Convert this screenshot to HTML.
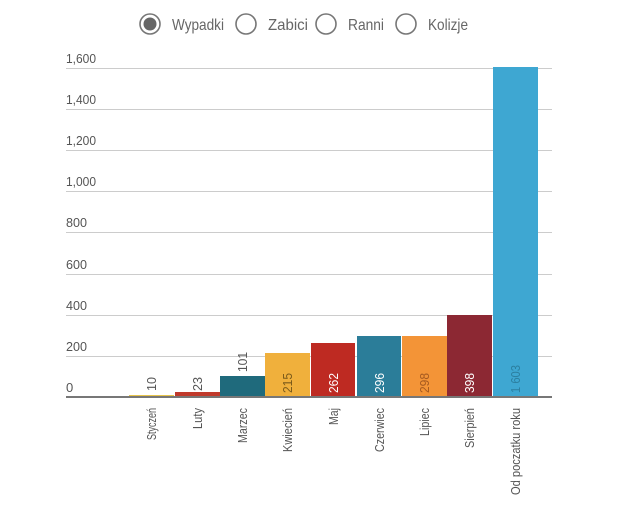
<!DOCTYPE html>
<html><head><meta charset="utf-8"><style>
body{margin:0;background:#fff;}
svg text{font-family:"Liberation Sans Narrow","Liberation Sans",sans-serif;}
</style></head><body>
<svg width="620" height="500" xmlns="http://www.w3.org/2000/svg">
<rect width="620" height="500" fill="#fff"/>
<g fill="none" stroke="#777" stroke-width="1.6">
<circle cx="150" cy="24" r="10"/><circle cx="246" cy="24" r="10"/><circle cx="326" cy="24" r="10"/><circle cx="406" cy="24" r="10"/>
</g>
<circle cx="150" cy="24" r="6.5" fill="#666"/>
<g font-size="16" fill="#666" lengthAdjust="spacingAndGlyphs">
<text x="172" y="30" textLength="52" lengthAdjust="spacingAndGlyphs">Wypadki</text>
<text x="268" y="30" textLength="40" lengthAdjust="spacingAndGlyphs">Zabici</text>
<text x="348" y="30" textLength="36" lengthAdjust="spacingAndGlyphs">Ranni</text>
<text x="428" y="30" textLength="40" lengthAdjust="spacingAndGlyphs">Kolizje</text>
</g>
<g stroke="#ccc" stroke-width="1">
<line x1="66" x2="552" y1="68.5" y2="68.5"/><line x1="66" x2="552" y1="109.5" y2="109.5"/>
<line x1="66" x2="552" y1="150.5" y2="150.5"/><line x1="66" x2="552" y1="191.5" y2="191.5"/>
<line x1="66" x2="552" y1="232.5" y2="232.5"/><line x1="66" x2="552" y1="274.5" y2="274.5"/>
<line x1="66" x2="552" y1="315.5" y2="315.5"/><line x1="66" x2="552" y1="356.5" y2="356.5"/>
</g>
<g font-size="13" fill="#555">
<text x="66" y="63" textLength="30" lengthAdjust="spacingAndGlyphs">1,600</text>
<text x="66" y="104" textLength="30" lengthAdjust="spacingAndGlyphs">1,400</text>
<text x="66" y="145" textLength="30" lengthAdjust="spacingAndGlyphs">1,200</text>
<text x="66" y="186" textLength="30" lengthAdjust="spacingAndGlyphs">1,000</text>
<text x="66" y="227" textLength="21" lengthAdjust="spacingAndGlyphs">800</text>
<text x="66" y="269" textLength="21" lengthAdjust="spacingAndGlyphs">600</text>
<text x="66" y="310" textLength="21" lengthAdjust="spacingAndGlyphs">400</text>
<text x="66" y="351" textLength="21" lengthAdjust="spacingAndGlyphs">200</text>
<text x="66" y="392">0</text>
</g>
<rect x="129" y="395" width="45" height="2" fill="#e8c54a"/>
<rect x="175" y="392" width="45" height="5" fill="#c0392b"/>
<rect x="220" y="376" width="45" height="21" fill="#1f6a7c"/>
<rect x="265" y="353" width="45" height="44" fill="#f0b03c"/>
<rect x="311" y="343" width="44" height="54" fill="#be2a22"/>
<rect x="357" y="336" width="44" height="61" fill="#2b7d99"/>
<rect x="402" y="336" width="45" height="61" fill="#f39437"/>
<rect x="447" y="315" width="45" height="82" fill="#8c2833"/>
<rect x="493" y="67" width="45" height="330" fill="#3ea7d2"/>
<line x1="66" x2="552" y1="397" y2="397" stroke="#777" stroke-width="2"/>
<g font-size="13">
<text transform="translate(156,391) rotate(-90)" fill="#555" textLength="14" lengthAdjust="spacingAndGlyphs">10</text>
<text transform="translate(202,391) rotate(-90)" fill="#555" textLength="14" lengthAdjust="spacingAndGlyphs">23</text>
<text transform="translate(247,372) rotate(-90)" fill="#555" textLength="20" lengthAdjust="spacingAndGlyphs">101</text>
<text transform="translate(292,393) rotate(-90)" fill="#7a5a1a" textLength="20" lengthAdjust="spacingAndGlyphs">215</text>
<text transform="translate(338,393) rotate(-90)" fill="#fff" textLength="20" lengthAdjust="spacingAndGlyphs">262</text>
<text transform="translate(384,393) rotate(-90)" fill="#fff" textLength="20" lengthAdjust="spacingAndGlyphs">296</text>
<text transform="translate(429,393) rotate(-90)" fill="#a55a20" textLength="20" lengthAdjust="spacingAndGlyphs">298</text>
<text transform="translate(474,393) rotate(-90)" fill="#fff" textLength="20" lengthAdjust="spacingAndGlyphs">398</text>
<text transform="translate(520,393) rotate(-90)" fill="#2c7fa0" textLength="28" lengthAdjust="spacingAndGlyphs">1 603</text>
</g>
<g font-size="13" fill="#555" text-anchor="end">
<text transform="translate(156,408) rotate(-90)" textLength="32" lengthAdjust="spacingAndGlyphs">Styczeń</text>
<text transform="translate(202,408) rotate(-90)" textLength="21" lengthAdjust="spacingAndGlyphs">Luty</text>
<text transform="translate(247,408) rotate(-90)" textLength="35" lengthAdjust="spacingAndGlyphs">Marzec</text>
<text transform="translate(292,408) rotate(-90)" textLength="44" lengthAdjust="spacingAndGlyphs">Kwiecień</text>
<text transform="translate(338,408) rotate(-90)" textLength="17" lengthAdjust="spacingAndGlyphs">Maj</text>
<text transform="translate(384,408) rotate(-90)" textLength="44" lengthAdjust="spacingAndGlyphs">Czerwiec</text>
<text transform="translate(429,408) rotate(-90)" textLength="28" lengthAdjust="spacingAndGlyphs">Lipiec</text>
<text transform="translate(474,408) rotate(-90)" textLength="40" lengthAdjust="spacingAndGlyphs">Sierpień</text>
<text transform="translate(520,408) rotate(-90)" textLength="87" lengthAdjust="spacingAndGlyphs">Od poczatku roku</text>
</g>
</svg>
</body></html>
